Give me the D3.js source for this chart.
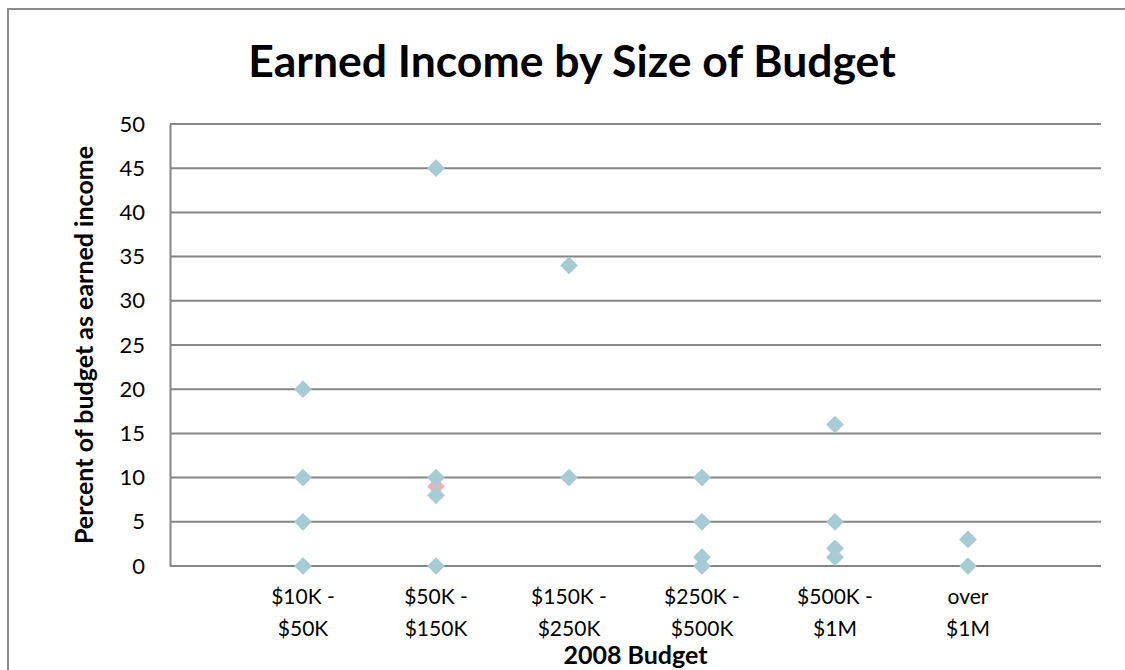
<!DOCTYPE html>
<html>
<head>
<meta charset="utf-8">
<script src="https://cdn.jsdelivr.net/npm/d3@7"></script>
<style>
  html, body { margin: 0; padding: 0; background: #fff; }
  svg { display: block; }
  text { font-family: Lato, "Open Sans", sans-serif; fill: #000; }
</style>
</head>
<body>
<svg id="chart" width="1125" height="670"></svg>
<script>
// Budget categories along the x axis (two-line labels)
const categories = ["$10K -|$50K", "$50K -|$150K", "$150K -|$250K", "$250K -|$500K", "$500K -|$1M", "over|$1M"];

// Percent of budget as earned income, one list per category
const earned10to50 = [20, 10, 5, 0];
const earned50to150 = [45, 10, 8, 0];
const earned150to250 = [34, 10];
const earned250to500 = [10, 5, 1, 0];
const earned500to1M = [16, 5, 2, 1];
const earnedOver1M = [3, 0];

// Second series (drawn underneath)
const secondCategory = [1];
const secondValues = [9];

const yTicks = [0, 5, 10, 15, 20, 25, 30, 35, 40, 45, 50];

const series = [earned10to50, earned50to150, earned150to250, earned250to500, earned500to1M, earnedOver1M];

const svg = d3.select("#chart");

const plot = { left: 170, right: 1101, top: 124, bottom: 566 };

const x = d3.scaleLinear().domain([0, 7]).range([plot.left, plot.right]);
const y = d3.scaleLinear().domain([0, 50]).range([plot.bottom, plot.top]);

// Outer frame
svg.append("rect")
  .attr("x", 8).attr("y", 9)
  .attr("width", 1130).attr("height", 680)
  .attr("fill", "none")
  .attr("stroke", "#8c8c8c")
  .attr("stroke-width", 2);

// Title
svg.append("text")
  .attr("x", 572).attr("y", 77)
  .attr("text-anchor", "middle")
  .attr("font-weight", "bold")
  .attr("font-size", 44.5)
  .text("Earned Income by Size of Budget");

// Horizontal gridlines
svg.append("g")
  .selectAll("line")
  .data(yTicks)
  .join("line")
  .attr("x1", plot.left).attr("x2", plot.right)
  .attr("y1", d => y(d)).attr("y2", d => y(d))
  .attr("stroke", "#868686")
  .attr("stroke-width", 2);

// Y axis with tick labels
const yAxis = d3.axisLeft(y).tickValues(yTicks).tickSize(0).tickPadding(25);
const yg = svg.append("g").attr("transform", `translate(${plot.left},0)`).call(yAxis);
yg.select(".domain").attr("stroke", "#868686").attr("stroke-width", 2);
yg.selectAll("text").attr("font-size", 22).attr("font-family", "Lato, sans-serif").attr("fill", "#000");

// X category labels (two lines)
const xg = svg.append("g");
categories.forEach((c, i) => {
  const lines = c.split("|");
  const t = xg.append("text")
    .attr("x", x(i + 1))
    .attr("y", 604)
    .attr("text-anchor", "middle")
    .attr("font-size", 21);
  lines.forEach((ln, j) => {
    t.append("tspan").attr("x", x(i + 1)).attr("dy", j === 0 ? 0 : 32).text(ln);
  });
});

// Axis titles
svg.append("text")
  .attr("x", x(3.5)).attr("y", 664)
  .attr("text-anchor", "middle")
  .attr("font-weight", "bold")
  .attr("font-size", 25)
  .text("2008 Budget");

svg.append("text")
  .attr("transform", `translate(93,${(plot.top + plot.bottom) / 2}) rotate(-90)`)
  .attr("text-anchor", "middle")
  .attr("font-weight", "bold")
  .attr("font-size", 25)
  .text("Percent of budget as earned income");

// Diamond markers
const diamond = d3.symbol().type(d3.symbolDiamond2).size(200);

svg.append("g")
  .selectAll("path")
  .data(secondValues.map((v, i) => ({ c: secondCategory[i], v })))
  .join("path")
  .attr("d", diamond)
  .attr("transform", d => `translate(${x(d.c + 1)},${y(d.v)})`)
  .attr("fill", "#e8b4b8");

const points = [];
series.forEach((vals, i) => vals.forEach(v => points.push({ c: i, v })));

svg.append("g")
  .selectAll("path")
  .data(points)
  .join("path")
  .attr("d", diamond)
  .attr("transform", d => `translate(${x(d.c + 1)},${y(d.v)})`)
  .attr("fill", "#a6cbd3");
</script>
</body>
</html>
